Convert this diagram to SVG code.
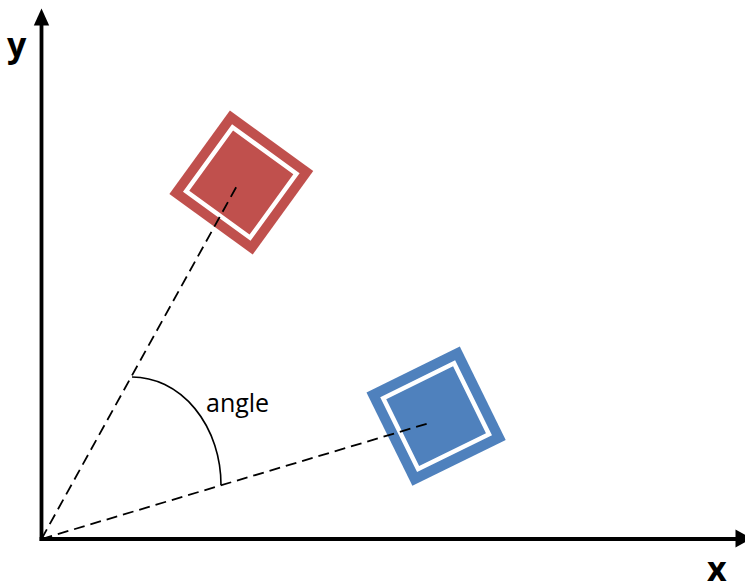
<svg xmlns="http://www.w3.org/2000/svg" width="745" height="584" viewBox="0 0 745 584">
  <defs>
    <style>
      .axis { stroke: #000; stroke-width: 3.8; fill: none; }
      .head { fill: #000; stroke: none; }
      .dash { stroke: #000; stroke-width: 1.8; stroke-dasharray: 11 6; fill: none; }
      .arc { stroke: #000; stroke-width: 1.6; fill: none; }
      .inner { fill: none; stroke: #fff; stroke-width: 4.5; }
      .axlabel { font-family: "Open Sans", "Liberation Sans", sans-serif; font-weight: bold; font-size: 34px; fill: #000; }
      .label { font-family: "Open Sans", "Liberation Sans", sans-serif; font-size: 25px; fill: #000; }
    </style>
  </defs>
  <rect width="745" height="584" fill="#fff"/>

  <g id="axes">
    <line class="axis" x1="41.5" y1="541" x2="41.5" y2="22"/>
    <polygon class="head" points="41.5,8.5 33.8,25.5 49.2,25.5"/>
    <line class="axis" x1="39.6" y1="539" x2="737" y2="539"/>
    <polygon class="head" points="752,538.5 735.5,529.5 735.5,547.5"/>
    <text class="axlabel" x="7" y="57">y</text>
    <text class="axlabel" x="707" y="581">x</text>
  </g>

  <g id="red-object" transform="translate(241.3,182.5) rotate(36)">
    <rect x="-51.5" y="-51.5" width="103" height="103" fill="#C0504D"/>
    <rect class="inner" x="-39.5" y="-39.5" width="79" height="79"/>
  </g>

  <g id="blue-object" transform="translate(436.1,416.2) rotate(-26.2)">
    <rect x="-52" y="-52" width="104" height="104" fill="#4F81BD"/>
    <rect class="inner" x="-39.5" y="-39.5" width="79" height="79"/>
  </g>

  <g id="connectors">
    <line class="dash" x1="41.5" y1="539" x2="238.5" y2="183"/>
    <line class="dash" x1="41.5" y1="539" x2="431" y2="422.5"/>
    <path class="arc" d="M132,377 A89,108 0 0 1 221,485"/>
  </g>

  <g id="angle-label">
    <text class="label" x="206" y="412">angle</text>
  </g>
</svg>
